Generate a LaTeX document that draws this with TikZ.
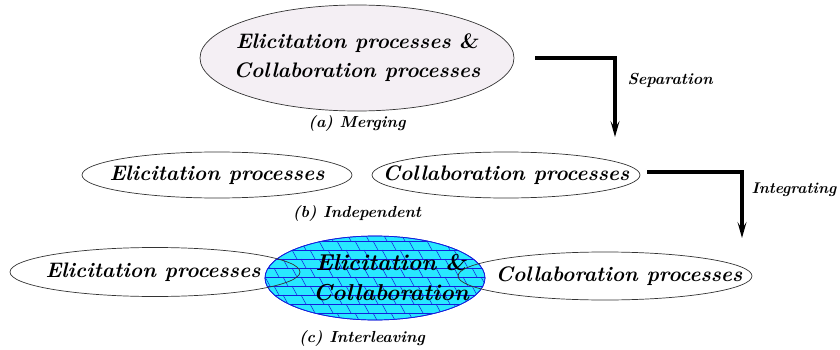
\documentclass[tikz,border=0pt]{standalone}
\usetikzlibrary{shapes.geometric,arrows.meta,positioning}
\definecolor{mergefill}{RGB}{244,239,244}
\definecolor{interfill}{RGB}{40,232,255}
\definecolor{interline}{RGB}{20,30,220}
\newcommand{\amp}{{\fontshape{sl}\selectfont\&}}
\tikzset{
proc/.style={ellipse, draw=black!80, line width=0.7pt, inner sep=0pt},
proctext/.style={font=\fontsize{21}{29}\selectfont\bfseries\itshape, align=center},
caption/.style={font=\fontsize{16}{19}\selectfont\bfseries\itshape},
flow/.style={line width=4pt, -{Stealth[length=16pt,width=9pt,inset=7pt]}}
}

\begin{document}
\begin{tikzpicture}[x=1pt,y=-1pt]
\useasboundingbox (0,0) rectangle (840,350);

\node[proc, fill=mergefill, minimum width=314pt, minimum height=106pt] (merge) at (357,58) {};
\node[proctext] (mergetxt) at (merge.center) {Elicitation processes \amp\\Collaboration processes};
\node[caption] (capa) at (357,123) {(a) Merging};

\node[proc, minimum width=270pt, minimum height=46pt] (elic1) at (217,175) {};
\node[proctext] (elic1txt) at (elic1.center) {Elicitation processes};
\node[proc, minimum width=268pt, minimum height=46pt] (coll1) at (506,175) {};
\node[proctext] (coll1txt) at (coll1.center) {Collaboration processes};
\node[caption] (capb) at (357,213) {(b) Independent};

\node[proc, draw=interline, fill=interfill, minimum width=220pt, minimum height=84pt] (inter) at (375,278) {};
\begin{scope}
\clip (inter.center) ellipse (110pt and 42pt);
\foreach \y in {241,250,...,320}
  \draw[interline, line width=0.5pt] (265,\y) -- (485,\y);
\foreach \r in {0,...,9}
  \foreach \x in {0,...,12}
    \draw[interline, line width=0.5pt] ({256+\x*18+9*mod(\r,2)},{232+9*\r}) -- ++(5,9);
\end{scope}
\node[proc, draw=interline, minimum width=220pt, minimum height=84pt] (interrim) at (inter.center) {};
\node[proctext, font=\fontsize{23}{30}\selectfont\bfseries\itshape] (intertxt) at ([xshift=16pt]inter.center) {Elicitation \amp\\Collaboration};

\node[proc, minimum width=290pt, minimum height=49pt] (elic2) at (155,272) {};
\node[proctext] (elic2txt) at (153,272) {Elicitation processes};
\node[proc, minimum width=294pt, minimum height=48pt] (coll2) at (605,276) {};
\node[proctext] (coll2txt) at (619,276) {Collaboration processes};
\node[caption] (capc) at (362,338) {(c) Interleaving};

\begin{scope}
\coordinate(sepend) at (615,137);
\draw[flow] ([xshift=21pt]merge.east) -| (sepend);
\node[caption, anchor=west] (septxt) at (624,80) {Separation};
\end{scope}

\begin{scope}
\coordinate(intend) at (742,238);
\draw[flow] ([xshift=7pt,yshift=3pt]coll1.east) -| (intend);
\node[caption, anchor=west, font=\fontsize{15.5}{19}\selectfont\bfseries\itshape] (inttxt) at (748,190) {Integrating};
\end{scope}

\end{tikzpicture}
\end{document}
